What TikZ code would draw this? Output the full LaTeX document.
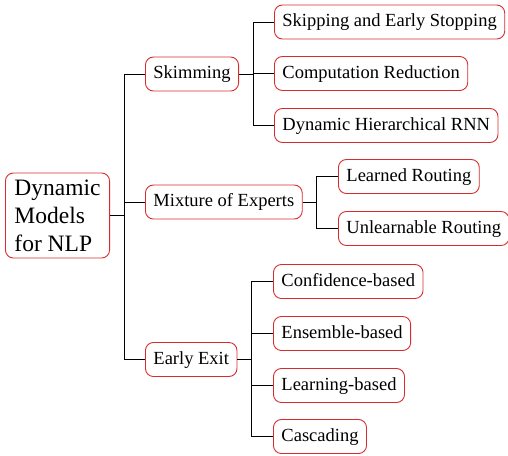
\documentclass[tikz,border=0pt]{standalone}
\usepackage{fontspec}
\setmainfont{Liberation Serif}
\definecolor{boxred}{RGB}{216,44,44}

\begin{document}
\begin{tikzpicture}[x=1pt, y=-1pt,
    every node/.style={draw=boxred, line width=0.9pt, rounded corners=8pt, anchor=west},
    topic/.style={font=\fontsize{18.5}{22}\selectfont, inner xsep=8pt, inner ysep=8.5pt, text height=13pt, text depth=4pt},
    root/.style={align=left, font=\fontsize{23.5}{28}\selectfont, inner xsep=9pt, minimum height=85pt},
    link/.style={draw=black, line width=0.9pt}]
	\useasboundingbox (0,0) rectangle (508,455);

	\node[root] (root) at (5,215.5) {Dynamic\\Models\\for NLP};

	\node[topic] (skim) at (145,74) {Skimming};
	\node[topic] (moe) at (145,202) {Mixture of Experts};
	\node[topic] (exit) at (145,359.5) {Early Exit};

	\node[topic] (skip) at (274,22) {Skipping and Early Stopping};
	\node[topic] (comp) at (274,73.5) {Computation Reduction};
	\node[topic] (dhrnn) at (274,125.5) {Dynamic Hierarchical RNN};

	\node[topic] (learned) at (338,176.5) {Learned Routing};
	\node[topic] (unlearn) at (338,228.5) {Unlearnable Routing};

	\node[topic] (conf) at (273,281.5) {Confidence-based};
	\node[topic] (ens) at (273,333.5) {Ensemble-based};
	\node[topic] (learn) at (273,385.5) {Learning-based};
	\node[topic] (casc) at (273,436.5) {Cascading};

	\foreach \t in {skim,moe,exit}
		\draw[link] (root.east) -- ++(14,0) |- (\t.west);
	\foreach \c in {skip,comp,dhrnn}
		\draw[link] (skim.east) -- ++(14,0) |- (\c.west);
	\foreach \c in {learned,unlearn}
		\draw[link] (moe.east) -- ++(14,0) |- (\c.west);
	\foreach \c in {conf,ens,learn,casc}
		\draw[link] (exit.east) -- ++(14,0) |- (\c.west);
\end{tikzpicture}
\end{document}
